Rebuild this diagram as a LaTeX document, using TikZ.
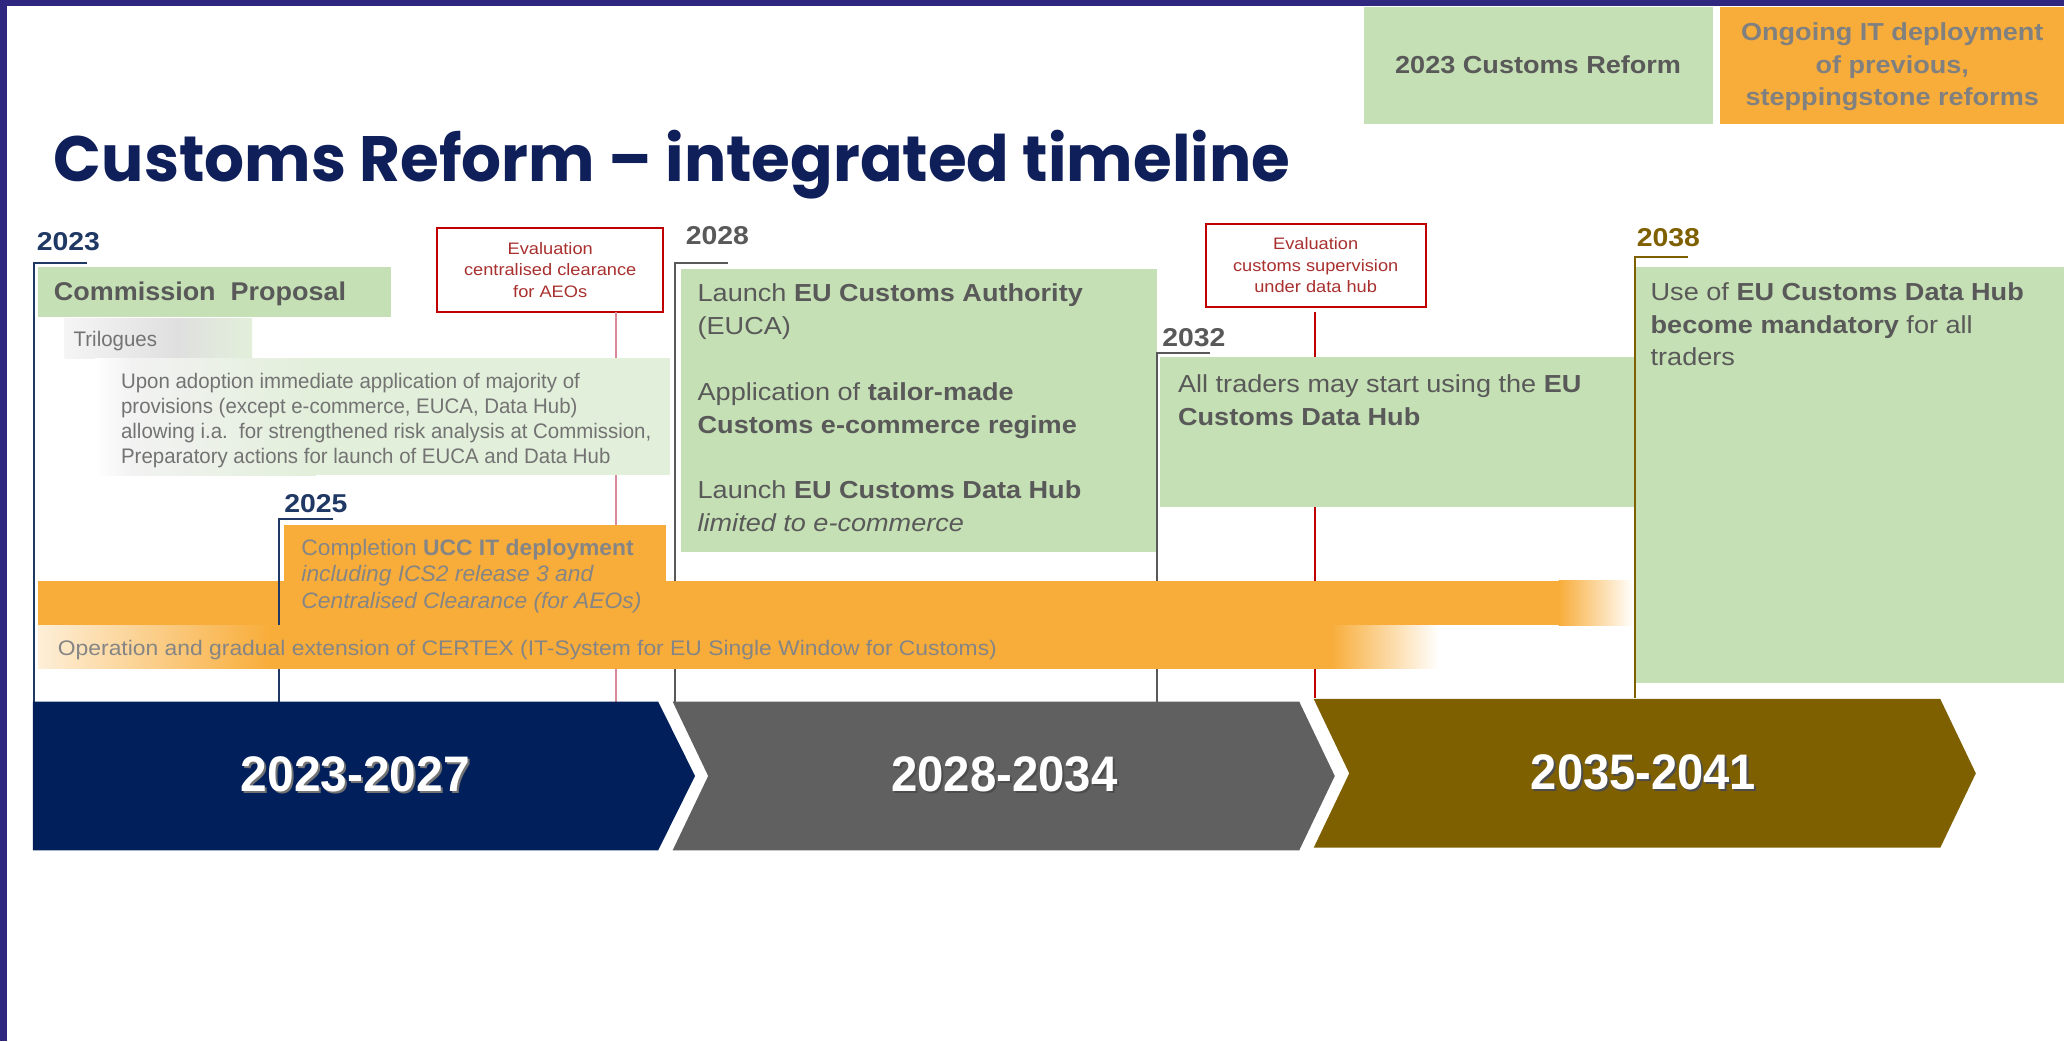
\documentclass[tikz,border=0pt]{standalone}
\usepackage{fontspec}
\usepackage{graphicx}
\setmainfont{Liberation Sans}[FakeStretch=1.1]
\newfontfamily\titlefont{Poppins}
\newfontfamily\chevfont{Liberation Sans}
\newfontfamily\narrowfont{Liberation Sans}[FakeStretch=0.97]
\newfontfamily\uccfont{Liberation Sans}[FakeStretch=1.02]
\newfontfamily\cpfont{Liberation Sans}[FakeStretch=1.05]
\newfontfamily\certexfont{Liberation Sans}[FakeStretch=1.086]
\definecolor{framec}{HTML}{2F2680}
\definecolor{navy}{HTML}{001F5B}
\definecolor{navyl}{HTML}{1F3864}
\definecolor{titlec}{HTML}{0F1F5A}
\definecolor{chgray}{HTML}{606060}
\definecolor{olive}{HTML}{7F6000}
\definecolor{lgreen}{HTML}{C5E0B4}
\definecolor{pgreen}{HTML}{E2EFDA}
\definecolor{orng}{HTML}{F8AD3A}
\definecolor{txtg}{HTML}{595959}
\definecolor{txtl}{HTML}{737373}
\definecolor{evred}{HTML}{C00000}
\definecolor{evtxt}{HTML}{A8302F}
\definecolor{pinkl}{HTML}{D98A9A}
\newcommand\ml[1]{\begin{tabular}[t]{@{}l@{}}#1\end{tabular}}
\newcommand\mc[1]{\begin{tabular}[t]{@{}c@{}}#1\end{tabular}}
\begin{document}
\begin{tikzpicture}[x=0.5pt,y=-0.5pt,
  every node/.style={inner sep=0pt,outer sep=0pt},
  txt/.style={anchor=base west,text=txtg},
  bigtxt/.style={txt,font=\fontsize{9.35}{12.5}\selectfont},
  smalltxt/.style={anchor=base west,text=txtl,font=\narrowfont\fontsize{8}{9.5}\selectfont},
  yearlbl/.style={anchor=base west,font=\fontsize{9.8}{12}\selectfont\bfseries},
  evalbox/.style={draw=evred,line width=0.75pt,text=evtxt,align=center,
    font=\fontsize{6.3}{8.25}\selectfont},
  navyline/.style={draw=navyl,line width=0.8pt},
  grayline/.style={draw=txtg,line width=0.8pt},
  oliveline/.style={draw=olive,line width=0.8pt},
  chevtxt/.style={anchor=base}]

\fill[white] (0,0) rectangle (1568,791);
\useasboundingbox (0,0) rectangle (1568,791);

% legend
\fill[lgreen] (1036,5) rectangle (1301,94);
\node[font=\fontsize{9.35}{12}\selectfont\bfseries,text=txtg] (leg1) at (1168.5,49.5) {2023 Customs Reform};
\fill[orng] (1307,5) rectangle (1568,94);
\node[anchor=base,font=\fontsize{9.35}{12.25}\selectfont\bfseries,text=black!50] (leg2) at (1437.5,31)
  {\mc{Ongoing IT deployment\\of previous,\\steppingstone reforms}};

% frame
\fill[framec] (0,0) rectangle (1568,4.6);
\fill[framec] (0,0) rectangle (5.5,791);

% title
\node[anchor=base west,text=titlec] (title) at (41,138)
  {\resizebox{469.5pt}{19.5pt}{\titlefont\bfseries Customs Reform – integrated timeline}};

% evaluation boxes and lines
\coordinate (l1end) at (468,533);
\coordinate (l2end) at (999,530);
\node[evalbox,minimum width=86pt,minimum height=32pt] (eval1) at (418,205)
  {Evaluation\\centralised clearance\\for AEOs};
\node[evalbox,minimum width=83.5pt,minimum height=31.5pt] (eval2) at (999.5,201.5)
  {Evaluation\\customs supervision\\under data hub};
\draw[pinkl,line width=0.5pt] (eval1.south -| l1end) -- (l1end);
\draw[evred,line width=1pt,shorten <=2pt] (eval2.south -| l2end) -- (l2end);

% 2023 boxes
\fill[lgreen] (29,203) rectangle (297,241);
\shade[left color=gray!8,right color=gray!25] (49,242) rectangle (135,272);
\shade[left color=gray!25,right color=pgreen] (135,242) rectangle (191.5,272);
\shade[left color=white,right color=gray!10] (72,272) rectangle (100,361);
\shade[left color=gray!10,right color=pgreen] (100,272) rectangle (240,361);
\fill[pgreen] (240,272) rectangle (509,361);

% green boxes
\fill[lgreen] (517,204) rectangle (879,419);
\fill[lgreen] (881,271) rectangle (1241,385);
\fill[lgreen] (1242,203) rectangle (1568,519);

% year brackets
\coordinate (b23a) at (66,200); \coordinate (b23b) at (26,200); \coordinate (b23c) at (26,533);
\draw[navyline] (b23a) -- (b23b) -- (b23c);
\coordinate (b28a) at (553,200); \coordinate (b28b) at (513,200); \coordinate (b28c) at (513,533);
\draw[grayline] (b28a) -- (b28b) -- (b28c);
\coordinate (b32a) at (919,268); \coordinate (b32b) at (879,268); \coordinate (b32c) at (879,533);
\draw[grayline] (b32a) -- (b32b) -- (b32c);
\coordinate (b38a) at (1282,195); \coordinate (b38b) at (1242,195); \coordinate (b38c) at (1242,530);
\draw[oliveline] (b38a) -- (b38b) -- (b38c);

% orange bars
\fill[orng] (216,399) rectangle (506,442);
\fill[orng] (29,441) rectangle (1184,475);
\shade[left color=orng,right color=white] (1184,441) rectangle (1241,475);
\coordinate (b25a) at (253,394); \coordinate (b25b) at (212,394); \coordinate (b25c) at (212,533);
\draw[navyline] (b25a) -- (b25b) -- (b25c);
\shade[left color=orng!20,right color=orng] (29,475) rectangle (205,508);
\fill[orng] (205,475) rectangle (1011,508);
\shade[left color=orng,right color=white] (1011,475) rectangle (1093,508);

% texts
\node[yearlbl,text=navyl] (y23) at (28,190) {2023};
\node[yearlbl,text=navyl] (y25) at (216,389) {2025};
\node[yearlbl,text=txtg] (y28) at (521,186) {2028};
\node[yearlbl,text=txtg] (y32) at (883,263) {2032};
\node[yearlbl,text=olive] (y38) at (1243.5,187.5) {2038};

\node[txt,font=\cpfont\fontsize{9.75}{12}\selectfont\bfseries] (cp) at (41,228) {Commission\ \ Proposal};
\node[smalltxt] (tri) at (56,263) {Trilogues};
\node[smalltxt] (upon) at (92,295) {\ml{Upon adoption immediate application of majority of\\
  provisions (except e-commerce, EUCA, Data Hub)\\
  allowing i.a.\ \ for strengthened risk analysis at Commission,\\
  Preparatory actions for launch of EUCA and Data Hub}};

\node[bigtxt] (t28) at (530,229) {\ml{Launch \textbf{EU Customs Authority}\\(EUCA)\\ \\
  Application of \textbf{tailor-made}\\\textbf{Customs e-commerce regime}\\ \\
  Launch \textbf{EU Customs Data Hub}\\\textit{limited to e-commerce}}};
\node[bigtxt] (t32) at (895,298) {\ml{All traders may start using the \textbf{EU}\\\textbf{Customs Data Hub}}};
\node[bigtxt] (t38) at (1254,228) {\ml{Use of \textbf{EU Customs Data Hub}\\\textbf{become mandatory}\ for all\\traders}};

\node[anchor=base west,text=black!48,font=\uccfont\fontsize{8.5}{10}\selectfont] (ucc) at (229,422)
  {\ml{Completion \textbf{UCC IT deployment}\\\textit{including ICS2 release 3 and}\\\textit{Centralised Clearance (for AEOs)}}};
\node[anchor=base west,text=black!48,font=\certexfont\fontsize{8}{9.5}\selectfont] (certex) at (44,497.6)
  {Operation and gradual extension of CERTEX (IT-System for EU Single Window for Customs)};

% chevrons
\fill[navy] (25,533) -- (500,533) -- (528,589.5) -- (500,646) -- (25,646) -- cycle;
\fill[chgray] (511,533) -- (987,533) -- (1014,589.5) -- (987,646) -- (511,646) -- (538,589.5) -- cycle;
\fill[olive] (998,531) -- (1474,531) -- (1501,587.5) -- (1474,644) -- (998,644) -- (1025,587.5) -- cycle;

\node[chevtxt,text=black!55] (s1) at (271.5,603) {\resizebox{87pt}{13.25pt}{\chevfont\bfseries 2023-2027}};
\node[chevtxt,text=white] (c1) at (270,601.5) {\resizebox{87pt}{13.25pt}{\chevfont\bfseries 2023-2027}};
\node[chevtxt,text=black!70] (s2) at (764.5,603) {\resizebox{86pt}{13.25pt}{\chevfont\bfseries 2028-2034}};
\node[chevtxt,text=white] (c2) at (763,601.5) {\resizebox{86pt}{13.25pt}{\chevfont\bfseries 2028-2034}};
\node[chevtxt,text=black!70] (s3) at (1250,601) {\resizebox{85.5pt}{13.25pt}{\chevfont\bfseries 2035-2041}};
\node[chevtxt,text=white] (c3) at (1248.5,599.5) {\resizebox{85.5pt}{13.25pt}{\chevfont\bfseries 2035-2041}};
\end{tikzpicture}
\end{document}
